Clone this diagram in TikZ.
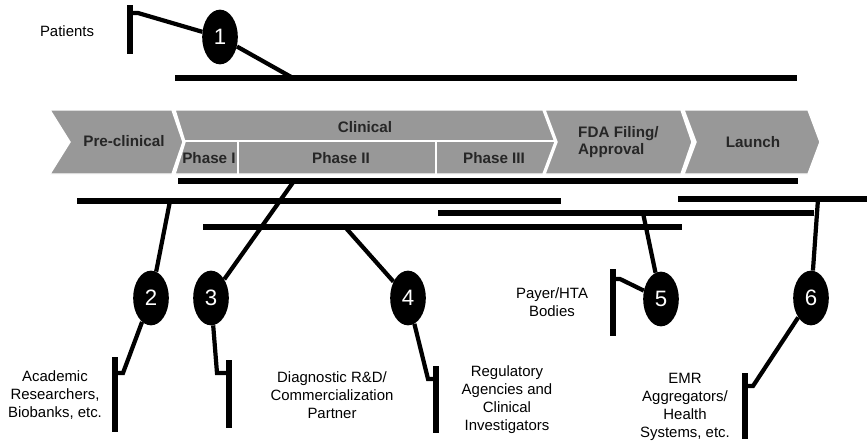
\documentclass[tikz,border=0pt]{standalone}
\usepackage{fontspec}
\setmainfont{Liberation Sans}
\usepackage{xcolor}
\usepackage{tikz}
\usetikzlibrary{shapes.geometric}
\definecolor{bandgray}{RGB}{152,152,152}

\begin{document}
\begin{tikzpicture}[x=0.03cm, y=-0.03cm,
    band/.style={fill=bandgray, draw=white, line width=1.2pt},
    stage/.style={font=\fontsize{13}{15}\selectfont\bfseries, text=black!85},
    stake/.style={ellipse, fill=black, text=white, inner sep=0pt,
        minimum width=1.07cm, minimum height=1.64cm, font=\fontsize{19}{19}\selectfont},
    party/.style={align=center, font=\fontsize{12.75}{15.3}\selectfont},
    span/.style={line width=4.8pt},
    link/.style={line width=3.6pt}]
    \useasboundingbox (0,0) rectangle (867,445);

    % Pipeline stages
    \draw[band] (50,110) -- (172,110) -- (183,142) -- (172,174) -- (50,174) -- (70,142) -- cycle;
    \draw[band] (175,110) -- (543,110) -- (555,142) -- (543,174) -- (175,174) -- (185,142) -- cycle;
    \draw[white, line width=1.2pt] (185,141) -- (555,141);
    \draw[white, line width=1.2pt] (238,141) -- (238,174);
    \draw[white, line width=1.2pt] (436,141) -- (436,174);
    \draw[band] (545,110) -- (681,110) -- (692,142) -- (681,174) -- (545,174) -- (557,142) -- cycle;
    \draw[band] (684,110) -- (808,110) -- (820,142) -- (808,174) -- (684,174) -- (696,142) -- cycle;

    \node[stage] (pre) at (124,141) {Pre-clinical};
    \node[stage] (clin) at (365,127) {Clinical};
    \node[stage] (ph1) at (209,158) {Phase I};
    \node[stage] (ph2) at (341,158) {Phase II};
    \node[stage] (ph3) at (494,158) {Phase III};
    \node[stage, align=left, anchor=west, inner sep=0pt] (fda) at (578,142) {FDA Filing/\\Approval};
    \node[stage] (launch) at (753,142) {Launch};

    % Spans over the stages
    \draw[span] (175,78) -- (797,78);
    \draw[span] (178,181) -- (798,181);
    \draw[span] (77,201) -- (561,201);
    \draw[span] (678,199) -- (867,199);
    \draw[span] (438,213) -- (814,213);
    \draw[span] (203,227) -- (682,227);
    \coordinate (t1) at (293,78);
    \coordinate (t2) at (170,201);
    \coordinate (t3) at (294,181);
    \coordinate (t4) at (345,227);
    \coordinate (t5) at (643,213);
    \coordinate (t6) at (818,199);

    % Brackets
    \draw[span] (130,5) -- (130,54);
    \draw[span] (115,357) -- (115,432);
    \draw[span] (229,360) -- (229,428);
    \draw[span] (436,366) -- (436,433);
    \draw[span] (613,269) -- (613,336);
    \draw[span] (745,373) -- (745,439);
    \coordinate (b1) at (130,13);
    \coordinate (b2) at (115,373);
    \coordinate (b3) at (229,373);
    \coordinate (b4) at (436,379);
    \coordinate (b5) at (613,279);
    \coordinate (b6) at (745,386);

    % Stakeholders
    \node[stake] (c1) at (220,37) {1};
    \node[stake] (c2) at (151,298) {2};
    \node[stake] (c3) at (211,298) {3};
    \node[stake] (c4) at (408,298) {4};
    \node[stake] (c5) at (661,299) {5};
    \node[stake] (c6) at (811,298) {6};

    \node[party] (pat) at (67,31) {Patients};
    \node[party] (acad) at (55,395) {Academic\\Researchers,\\Biobanks, etc.};
    \node[party] (diag) at (332,395) {Diagnostic R\&D/\\Commercialization\\Partner};
    \node[party] (reg) at (507,400) {Regulatory\\Agencies and\\Clinical\\Investigators};
    \node[party] (pay) at (552,302) {Payer/HTA\\Bodies};
    \node[party] (emr) at (685,407) {EMR\\Aggregators/\\Health\\Systems, etc.};

    % Links
    \draw[link] (b1) -- ++(8,0) -- (c1) -- (t1);
    \draw[link] (t2) -- (c2) -- (123,373) -- (b2);
    \draw[link] (t3) -- (c3) -- (217,373) -- (b3);
    \draw[link] (t4) -- (c4) -- (428,379) -- (b4);
    \draw[link] (t5) -- (c5) -- (620,279) -- (b5);
    \draw[link] (t6) -- (c6) -- (753,386) -- (b6);
\end{tikzpicture}
\end{document}
